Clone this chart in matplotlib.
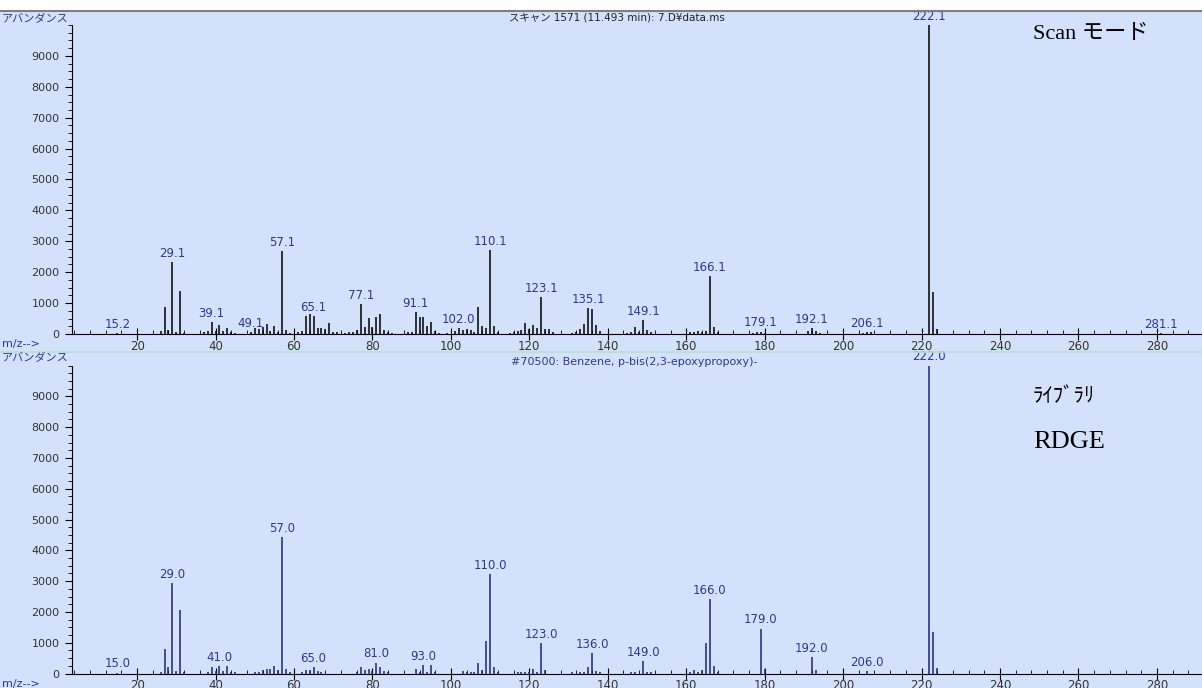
import matplotlib
matplotlib.use('Agg')
import matplotlib.pyplot as plt
from matplotlib.ticker import MultipleLocator
from matplotlib.lines import Line2D
from matplotlib.patches import Rectangle

plt.rcParams['font.family'] = ['DejaVu Sans', 'Noto Sans CJK JP']

# measured scan spectrum (m/z, abundance)
scan_mz = [15, 26, 27, 28, 29, 30, 31, 32, 37, 38, 39, 40, 41, 42, 43, 44, 45,
           49, 50, 51, 52, 53, 54, 55, 56, 57, 58, 59, 61, 62, 63, 64, 65, 66,
           67, 68, 69, 70, 71, 73, 74, 75, 76, 77, 78, 79, 80, 81, 82, 83, 84,
           85, 89, 90, 91, 92, 93, 94, 95, 96, 97, 99, 101, 102, 103, 104, 105,
           106, 107, 108, 109, 110, 111, 112, 115, 116, 117, 118, 119, 120, 121,
           122, 123, 124, 125, 126, 131, 132, 133, 134, 135, 136, 137, 138, 145,
           146, 147, 148, 149, 150, 151, 161, 162, 163, 164, 165, 166, 167, 168,
           177, 178, 179, 180, 191, 192, 193, 194, 205, 206, 207, 222, 223, 224,
           281]
scan_ab = [30, 100, 870, 120, 2320, 80, 1400, 40, 60, 110, 380, 90, 290, 100,
           200, 60, 30, 60, 200, 160, 240, 320, 110, 270, 60, 2680, 120, 40, 60,
           110, 570, 650, 590, 190, 190, 160, 360, 60, 50, 40, 60, 80, 120, 970,
           215, 520, 215, 540, 650, 120, 50, 30, 60, 80, 720, 560, 560, 250, 380,
           90, 40, 40, 100, 190, 130, 160, 140, 80, 880, 250, 190, 2730, 250, 60,
           40, 60, 90, 120, 355, 150, 290, 180, 1210, 160, 160, 50, 40, 80, 150,
           320, 830, 810, 290, 100, 40, 60, 215, 60, 450, 130, 60, 80, 60, 100,
           60, 100, 1890, 215, 50, 40, 60, 80, 30, 90, 200, 100, 30, 40, 60, 50,
           9999, 1360, 170, 30]
scan_labels = ['15.2', '29.1', '39.1', '49.1', '57.1', '65.1', '77.1', '91.1',
               '102.0', '110.1', '123.1', '135.1', '149.1', '166.1', '179.1',
               '192.1', '206.1', '222.1', '281.1']

# library spectrum
lib_mz = [15, 26, 27, 28, 29, 30, 31, 32, 38, 39, 40, 41, 42, 43, 44, 45, 50,
          51, 52, 53, 54, 55, 56, 57, 58, 59, 62, 63, 64, 65, 66, 67, 76, 77,
          78, 79, 80, 81, 82, 83, 84, 91, 92, 93, 94, 95, 96, 103, 104, 105,
          106, 107, 108, 109, 110, 111, 112, 117, 118, 119, 120, 121, 122, 123,
          124, 131, 133, 134, 135, 136, 137, 138, 146, 147, 149, 150, 151, 161,
          162, 163, 164, 165, 166, 167, 168, 179, 180, 192, 193, 206, 222, 223,
          224]
lib_ab = [30, 60, 790, 195, 2950, 90, 2060, 50, 60, 195, 90, 230, 90, 250, 60,
          40, 55, 55, 110, 160, 160, 250, 110, 4430, 160, 50, 55, 110, 110, 215,
          90, 55, 55, 215, 110, 140, 90, 355, 195, 90, 40, 160, 55, 270, 55, 280,
          55, 90, 40, 55, 40, 335, 110, 1060, 3225, 215, 40, 40, 55, 60, 40, 160,
          60, 985, 110, 40, 55, 60, 215, 650, 90, 55, 60, 40, 390, 60, 40, 60,
          100, 60, 100, 1005, 2415, 250, 55, 1460, 160, 540, 100, 85, 9999, 1340,
          180]
lib_labels = ['15.0', '29.0', '41.0', '57.0', '65.0', '81.0', '93.0', '110.0',
              '123.0', '136.0', '149.0', '166.0', '179.0', '192.0', '206.0',
              '222.0']

bg = '#d3e2fa'
blue = '#2b3a8c'
W, H = 1202, 688

fig = plt.figure(figsize=(W / 100, H / 100), dpi=100, facecolor=bg)

# white strip + gray rule at the very top, green separator between panels
fig.add_artist(Rectangle((0, 1 - 10 / H), 1, 10 / H, transform=fig.transFigure,
                         facecolor='white', edgecolor='none'))
fig.add_artist(Line2D([0, 1], [1 - 11 / H] * 2, color='#7f7f7f', lw=1.5))
fig.add_artist(Line2D([0, 1], [1 - 352 / H] * 2, color='#b5e3c9', lw=1.2))


def panel(base_px, top_px, ymax, mz, ab, labels, bar_color):
    ax = fig.add_axes([72 / W, 1 - base_px / H, 1 - 72 / W, (base_px - top_px) / H])
    ax.set_facecolor(bg)
    ax.vlines(mz, 0, ab, color=bar_color, lw=1.1)
    ax.set_xlim(3.4, 291.5)
    ax.set_ylim(0, ymax)
    for s in ['top', 'right']:
        ax.spines[s].set_visible(False)
    ax.spines['left'].set_bounds(0, 10000)
    ax.xaxis.set_major_locator(MultipleLocator(20))
    ax.xaxis.set_minor_locator(MultipleLocator(4))
    ax.set_yticks(range(0, 10000, 1000))
    ax.set_yticks(range(0, 10001, 250), minor=True)
    ax.tick_params(axis='x', which='major', direction='inout', length=8, pad=0,
                   labelsize=8.5, labelcolor='#333333')
    ax.tick_params(axis='x', which='minor', direction='in', length=3)
    ax.tick_params(axis='y', which='major', direction='out', length=5, pad=4,
                   labelsize=8, labelcolor='#333333')
    ax.tick_params(axis='y', which='minor', direction='out', length=3)
    for lab in labels:
        m = round(float(lab))
        h = ab[mz.index(m)]
        ax.annotate(lab, (m, h), xytext=(0, 1.5), textcoords='offset points',
                    ha='center', va='bottom', fontsize=8.5, color=blue)
    return ax


panel(334, 12, 10420, scan_mz, scan_ab, scan_labels, 'black')
panel(673.5, 353, 10406, lib_mz, lib_ab, lib_labels, '#1c2478')


def ftext(x, y, s, **kw):
    fig.text(x / W, 1 - y / H, s, **kw)


for y in (19, 358):
    ftext(2, y, 'アバンダンス', fontsize=8, color=blue, va='center')
for y in (344, 684):
    ftext(2, y, 'm/z-->', fontsize=8, color=blue, va='center')

ftext(617, 18, 'スキャン 1571 (11.493 min): 7.D¥data.ms', fontsize=7.5,
      color='#222222', ha='center', va='center')
ftext(634, 362, '#70500: Benzene, p-bis(2,3-epoxypropoxy)-', fontsize=8,
      color=blue, ha='center', va='center')

serif = ['Liberation Serif', 'Noto Sans CJK JP']
ftext(1033, 35, 'Scan モード', fontsize=16, family=serif, va='center')
ftext(1033, 398, 'ﾗｲﾌﾞﾗﾘ', fontsize=15, family=serif, va='center')
ftext(1033, 442, 'RDGE', fontsize=19, family=serif, va='center')

fig.savefig('out.png', dpi=100, facecolor=bg)
